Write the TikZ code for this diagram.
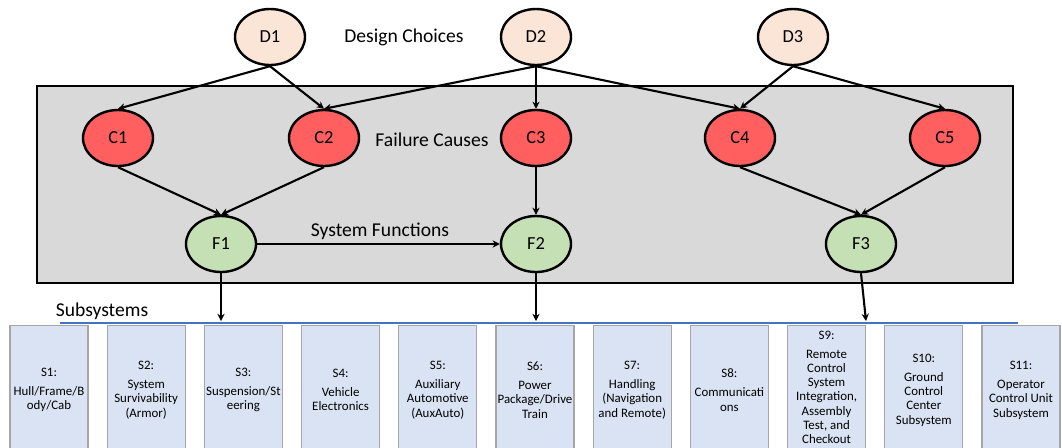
\documentclass[tikz,border=0pt]{standalone}
\usepackage{fontspec}
\setmainfont{Carlito}
\usetikzlibrary{shapes.geometric,arrows.meta}
\definecolor{choice}{HTML}{FBE5D6}
\definecolor{cause}{HTML}{FF5F5F}
\definecolor{func}{HTML}{C5E0B4}
\definecolor{panel}{HTML}{D9D9D9}
\definecolor{subfill}{HTML}{DAE3F3}
\definecolor{subline}{HTML}{A6A6A6}
\definecolor{busblue}{HTML}{4472C4}
\begin{document}
\begin{tikzpicture}[x=0.5pt,y=-0.5pt,
  oval/.style={ellipse,draw=black,line width=1.2pt,minimum width=35pt,
    minimum height=28pt,inner sep=0pt,font=\fontsize{9.2}{11}\selectfont},
  choicenode/.style={oval,fill=choice},
  causenode/.style={oval,fill=cause},
  funcnode/.style={oval,fill=func},
  link/.style={line width=1.05pt,-{Stealth[length=3.6pt,width=3.6pt]}},
  label/.style={font=\fontsize{9.8}{12}\selectfont,anchor=base},
  subbox/.style={draw=subline,line width=0.6pt,fill=subfill,minimum width=39pt,
    minimum height=64.5pt,inner sep=0pt,align=center,
    font=\fontsize{6.45}{7.2}\selectfont},
]
\clip (0,0) rectangle (1062,447);
\fill[white] (0,0) rectangle (1062,447);

% panel holding causes and functions
\draw[line width=1.2pt,fill=panel] (37,86) rectangle (1013,283);

% design choices
\node[choicenode] (D1) at (270,37) {D1};
\node[choicenode] (D2) at (536,37) {D2};
\node[choicenode] (D3) at (793,37) {D3};

% failure causes
\node[causenode] (C1) at (118,138) {C1};
\node[causenode] (C2) at (324,138) {C2};
\node[causenode] (C3) at (536,138) {C3};
\node[causenode] (C4) at (740,138) {C4};
\node[causenode] (C5) at (945,138) {C5};

% system functions
\node[funcnode] (F1) at (221,244) {F1};
\node[funcnode] (F2) at (536,244) {F2};
\node[funcnode] (F3) at (861,244) {F3};

% level labels
\node[label] (lblD) at (404,42) {Design Choices};
\node[label] (lblC) at (432,146) {Failure Causes};
\node[label] (lblF) at (380,236) {System Functions};
\node[label] (lblS) at (102,316) {Subsystems};

% subsystem boxes
\node[subbox] (S1) at (49,390) {S1:\\[2.3pt]Hull/Frame/B\\ody/Cab};
\node[subbox] (S2) at (146.2,390) {S2:\\[2.3pt]System\\Survivability\\(Armor)};
\node[subbox] (S3) at (243.4,390) {S3:\\[2.3pt]Suspension/St\\eering};
\node[subbox] (S4) at (340.6,390) {S4:\\[2.3pt]Vehicle\\Electronics};
\node[subbox] (S5) at (437.8,390) {S5:\\[2.3pt]Auxiliary\\Automotive\\(AuxAuto)};
\node[subbox] (S6) at (535,390) {S6:\\[2.3pt]Power\\Package/Drive\\Train};
\node[subbox] (S7) at (632.2,390) {S7:\\[2.3pt]Handling\\(Navigation\\and Remote)};
\node[subbox] (S8) at (729.4,390) {S8:\\[2.3pt]Communicati\\ons};
\node[subbox] (S9) at (826.6,390) {};
\node[align=center,inner sep=0pt,font=\fontsize{6.45}{7.1}\selectfont] (S9text) at (826.6,387.5)
  {S9:\\[2.1pt]Remote\\Control\\System\\Integration,\\Assembly\\Test, and\\Checkout};
\node[subbox] (S10) at (923.8,390) {S10:\\[2.3pt]Ground\\Control\\Center\\Subsystem};
\node[subbox] (S11) at (1021,390) {S11:\\[2.3pt]Operator\\Control Unit\\Subsystem};

% subsystem bus line
\coordinate (busL) at (60,323);
\coordinate (busR) at (1018,323);
\draw[busblue,line width=1.3pt] (busL) -- (busR);
\coordinate (b1) at (221,321);
\coordinate (b2) at (536,321);
\coordinate (b3) at (866,321);

% choices to causes
\draw[link] (D1.south) -- (C1.north);
\draw[link] (D1.south) -- (C2.north);
\draw[link] (D2.south) -- (C2.north);
\draw[link] (D2.south) -- (C3.north);
\draw[link] (D2.south) -- (C4.north);
\draw[link] (D3.south) -- (C4.north);
\draw[link] (D3.south) -- (C5.north);

% causes to functions
\draw[link] (C1.south) -- (F1.north);
\draw[link] (C2.south) -- (F1.north);
\draw[link] (C3.south) -- (F2.north);
\draw[link] (C4.south) -- (F3.north);
\draw[link] (C5.south) -- (F3.north);

% function to function
\draw[link] (F1.east) -- (F2.west);

% functions to subsystems
\draw[link] (F1.south) -- (b1);
\draw[link] (F2.south) -- (b2);
\draw[link] (F3.south) -- (b3);
\end{tikzpicture}
\end{document}
